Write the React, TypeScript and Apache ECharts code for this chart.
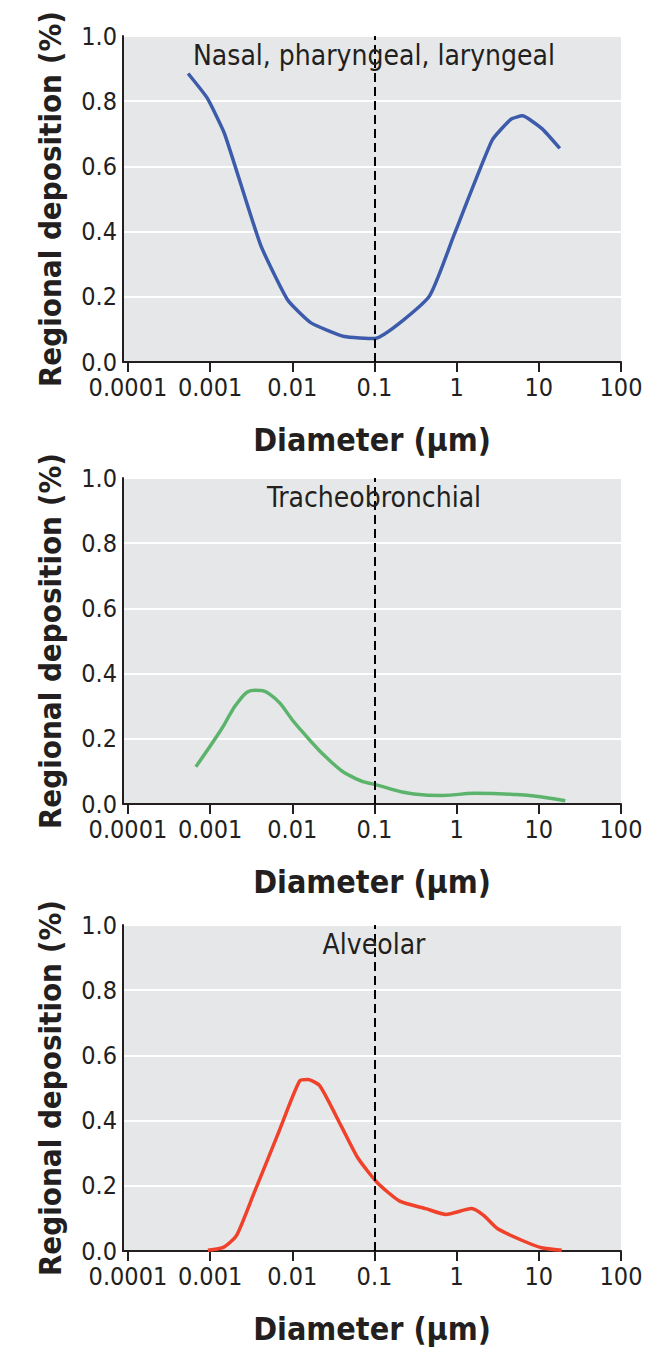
import React, { useEffect, useRef } from "react";
import * as echarts from "echarts";

// log10 positions of the x-axis ticks and their labels
const X_TICKS = [-4, -3, -2, -1, 0, 1, 2];
const X_TICK_LABELS = ["0.0001", "0.001", "0.01", "0.1", "1", "10", "100"];

const PANEL_TITLES = ["Nasal, pharyngeal, laryngeal", "Tracheobronchial", "Alveolar"];
const X_NAME = "Diameter (µm)";
const Y_NAME = "Regional deposition (%)";

// Nasal, pharyngeal, laryngeal
const nasalDiameter = [0.00054, 0.00092, 0.0015, 0.0041, 0.0088, 0.0169, 0.043, 0.1, 0.46, 0.93, 2.7, 4.6, 6.3, 11, 18];
const nasalDeposition = [0.885, 0.81, 0.70, 0.36, 0.19, 0.12, 0.078, 0.072, 0.20, 0.39, 0.68, 0.745, 0.755, 0.715, 0.655];

// Tracheobronchial
const trachDiameter = [0.00067, 0.00133, 0.00237, 0.00355, 0.0053, 0.0119, 0.03, 0.06, 0.108, 0.3, 0.67, 1.68, 5.3, 11.9, 21];
const trachDeposition = [0.114, 0.224, 0.324, 0.349, 0.337, 0.235, 0.128, 0.077, 0.058, 0.031, 0.026, 0.033, 0.029, 0.02, 0.01];

// Alveolar
const alvDiameter = [0.00094, 0.00147, 0.0021, 0.0034, 0.0067, 0.0123, 0.0155, 0.0216, 0.04, 0.0626, 0.107, 0.203, 0.42, 0.74, 1.52, 2.13, 3.16, 6.2, 10.8, 19];
const alvDeposition = [0.002, 0.012, 0.048, 0.176, 0.359, 0.522, 0.526, 0.507, 0.38, 0.286, 0.211, 0.153, 0.13, 0.112, 0.13, 0.109, 0.068, 0.033, 0.01, 0.002];

const CUTOFF_DIAMETER = 0.1;

const SERIES = [
  { d: nasalDiameter, v: nasalDeposition, color: "#3d5bab", smooth: 0.15 },
  { d: trachDiameter, v: trachDeposition, color: "#5cb46c", smooth: 0.5 },
  { d: alvDiameter, v: alvDeposition, color: "#f0412b", smooth: 0.2 },
];

const GRID_TOPS = [36, 478, 925];
const GRID_LEFT = 123;
const GRID_W = 498;
const GRID_H = 326;
const FONT = '"Liberation Sans Narrow", "DejaVu Sans Condensed", "Roboto Condensed", "Liberation Sans", sans-serif';
const INK = "#231f20";

export default function App() {
  const ref = useRef<HTMLDivElement>(null);
  useEffect(() => {
    if (!ref.current) return;
    const chart = echarts.init(ref.current, undefined, { renderer: "svg" });
    const option: any = {
      animation: false,
      backgroundColor: "#ffffff",
      grid: GRID_TOPS.map((top) => ({
        left: GRID_LEFT,
        top,
        width: GRID_W,
        height: GRID_H,
        show: true,
        backgroundColor: "#e6e7e8",
        borderWidth: 0,
      })),
      xAxis: GRID_TOPS.map((_, i) => ({
        type: "value",
        gridIndex: i,
        min: -4.06,
        max: 2,
        axisLine: { show: true, onZero: false, lineStyle: { color: INK, width: 2 } },
        axisTick: { show: true, customValues: X_TICKS, length: 10, lineStyle: { color: INK, width: 2 } },
        axisLabel: {
          customValues: X_TICKS,
          formatter: (val: number) => X_TICK_LABELS[X_TICKS.indexOf(Math.round(val))] ?? "",
          fontFamily: FONT,
          fontSize: 25,
          color: INK,
          margin: 13,
        },
        splitLine: { show: false },
        name: X_NAME,
        nameLocation: "middle",
        nameGap: 62,
        nameTextStyle: { fontFamily: FONT, fontWeight: "bold", fontSize: 32, color: INK },
      })),
      yAxis: GRID_TOPS.map((_, i) => ({
        type: "value",
        gridIndex: i,
        min: 0,
        max: 1,
        interval: 0.2,
        axisLine: { show: true, onZero: false, lineStyle: { color: INK, width: 2 } },
        axisTick: { show: false },
        axisLabel: {
          formatter: (val: number) => val.toFixed(1),
          fontFamily: FONT,
          fontSize: 25,
          color: INK,
          margin: 6,
        },
        splitLine: { show: true, lineStyle: { color: "#ffffff", width: 2 } },
        name: Y_NAME,
        nameLocation: "middle",
        nameGap: 58,
        nameTextStyle: { fontFamily: FONT, fontWeight: "bold", fontSize: 31, color: INK },
      })),
      series: SERIES.map((s, i) => ({
        type: "line",
        xAxisIndex: i,
        yAxisIndex: i,
        data: s.d.map((x, j) => [Math.log10(x), s.v[j]]),
        showSymbol: false,
        symbol: "none",
        smooth: s.smooth,
        lineStyle: { color: s.color, width: 3.5 },
        markLine: {
          silent: true,
          symbol: ["none", "none"],
          label: { show: false },
          lineStyle: { color: "#000000", type: [9, 5], width: 2, opacity: 1 },
          data: [{ xAxis: Math.log10(CUTOFF_DIAMETER) }],
        },
      })),
      graphic: PANEL_TITLES.map((t, i) => ({
        type: "text",
        x: GRID_LEFT + GRID_W / 2 + 2,
        y: GRID_TOPS[i] + 19,
        z: 50,
        style: {
          text: t,
          fill: INK,
          font: `28px ${FONT}`,
          align: "center",
          verticalAlign: "middle",
        },
      })),
    };
    chart.setOption(option);
    return () => chart.dispose();
  }, []);
  return (
    <div
      ref={ref}
      style={{ position: "absolute", left: 0, top: 0, width: 647, height: 1354, background: "#fff" }}
    />
  );
}
